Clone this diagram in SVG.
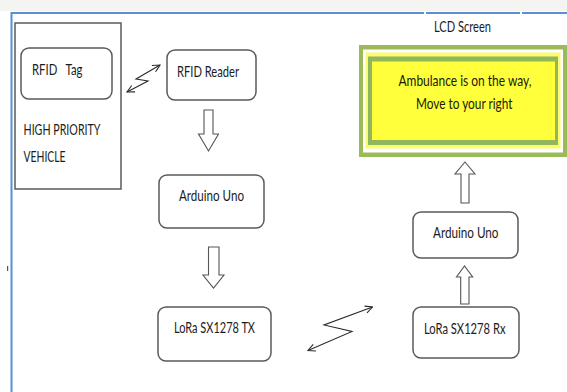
<svg xmlns="http://www.w3.org/2000/svg" width="567" height="392" viewBox="0 0 567 392">
<style>
.box{fill:#fff;stroke:#5a5a5a;stroke-width:1.5}
.blk{fill:#fff;stroke:#555;stroke-width:1.1}
.t{font-family:Lato,"Liberation Sans",sans-serif;font-size:15px;fill:#1c1c1c;text-anchor:middle}
.z{fill:none;stroke:#2a2a2a;stroke-width:1.1}
.bl{stroke:#5b8ed4;stroke-width:2}
</style>
<defs>
<marker id="oa" viewBox="0 0 10 10" refX="9" refY="5" markerWidth="9" markerHeight="9" markerUnits="userSpaceOnUse" orient="auto-start-reverse">
<path d="M1,1 L9,5 L1,9" fill="none" stroke="#2a2a2a" stroke-width="1.2"/>
</marker>
</defs>
<rect x="0" y="0" width="567" height="11" fill="#f4f4f1"/>
<g id="frame">
<line class="bl" x1="11" y1="13" x2="424" y2="13"/>
<line class="bl" x1="426" y1="13" x2="520" y2="13"/>
<line class="bl" x1="522" y1="13" x2="567" y2="13"/>
<line class="bl" x1="11.5" y1="12" x2="11.5" y2="392"/>
<rect x="7" y="266" width="1.2" height="5" fill="#555"/>
</g>
<g id="vehicle">
<rect x="15" y="23" width="106" height="166" fill="#fff" stroke="#5a5a5a" stroke-width="1.5"/>
<text class="t" x="62" y="135" textLength="77" lengthAdjust="spacingAndGlyphs">HIGH PRIORITY</text>
<text class="t" x="44.5" y="161.5" textLength="42" lengthAdjust="spacingAndGlyphs">VEHICLE</text>
</g>
<g id="rfid-tag">
<rect class="box" x="21" y="48" width="91" height="51" rx="8"/>
<text class="t" x="57.25" y="75" textLength="50.5" lengthAdjust="spacingAndGlyphs" xml:space="preserve">RFID   Tag</text>
</g>
<g id="rfid-reader">
<rect class="box" x="167" y="50" width="89" height="50" rx="8"/>
<text class="t" x="208" y="77" textLength="62" lengthAdjust="spacingAndGlyphs">RFID Reader</text>
</g>
<g id="arduino-tx">
<rect class="box" x="159" y="175" width="105" height="53" rx="8"/>
<text class="t" x="211.5" y="201" textLength="65" lengthAdjust="spacingAndGlyphs">Arduino Uno</text>
</g>
<g id="lora-tx">
<rect class="box" x="158" y="307" width="113" height="54" rx="8"/>
<text class="t" x="214.5" y="333" textLength="81" lengthAdjust="spacingAndGlyphs">LoRa SX1278 TX</text>
</g>
<g id="lcd">
<text class="t" x="462.5" y="32" textLength="57" lengthAdjust="spacingAndGlyphs">LCD Screen</text>
<rect x="359" y="45" width="208" height="112" fill="#9bbb59"/>
<rect x="363" y="49.5" width="200" height="103" fill="#ffffff"/>
<rect x="365.5" y="52.5" width="195" height="96" fill="#fbfb70"/>
<rect x="368" y="56.5" width="190" height="88.5" fill="#92b65a"/>
<rect x="372" y="61.5" width="183" height="78.5" fill="#ffff3c"/>
<text class="t" x="465" y="86" textLength="133" lengthAdjust="spacingAndGlyphs" style="fill:#1a1a05">Ambulance is on the way,</text>
<text class="t" x="464.25" y="108.5" textLength="96.5" lengthAdjust="spacingAndGlyphs" style="fill:#1a1a05">Move to your right</text>
</g>
<g id="arduino-rx">
<rect class="box" x="413" y="212" width="105" height="46" rx="8"/>
<text class="t" x="465.75" y="238" textLength="65.5" lengthAdjust="spacingAndGlyphs">Arduino Uno</text>
</g>
<g id="lora-rx">
<rect class="box" x="413" y="307" width="106" height="51" rx="8"/>
<text class="t" x="464.75" y="333.5" textLength="81.5" lengthAdjust="spacingAndGlyphs">LoRa SX1278 Rx</text>
</g>
<g id="connectors">
<polygon class="blk" points="204,110 213,110 213,134 218.5,134 208.5,151 198.5,134 204,134"/>
<polygon class="blk" points="208.5,247 219,247 219,275 224,275 213.5,288 203,275 208.5,275"/>
<polygon class="blk" points="461,203 469,203 469,174 475,174 465,162 455,174 461,174"/>
<polygon class="blk" points="460.7,304 469,304 469,277 472.7,277 464.5,266 456.5,277 460.7,277"/>
<polyline class="z" points="160,65 136,79 148,81 127,92" marker-start="url(#oa)" marker-end="url(#oa)"/>
<polyline class="z" points="372.5,307 324,325 352,331.5 308,350.5" marker-start="url(#oa)" marker-end="url(#oa)"/>
</g>
</svg>
